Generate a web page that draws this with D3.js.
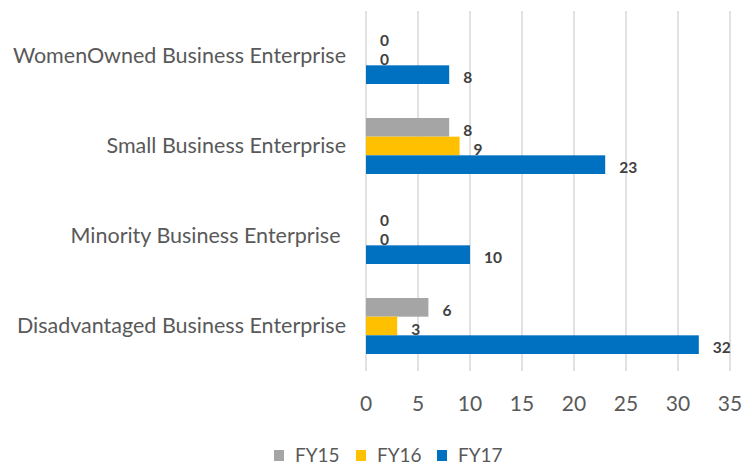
<!DOCTYPE html>
<html>
<head>
<meta charset="utf-8">
<script src="https://cdn.jsdelivr.net/npm/d3@7"></script>
<style>
  body { margin: 0; background: #fff; }
  text { font-family: Lato, "Open Sans", sans-serif; white-space: pre; }
</style>
</head>
<body>
<div id="chart"></div>
<script>
var categories = ["WomenOwned Business Enterprise", "Small Business Enterprise", "Minority Business Enterprise ", "Disadvantaged Business Enterprise"];
var seriesNames = ["FY15", "FY16", "FY17"];
var fy15 = [0, 8, 0, 6];
var fy16 = [0, 9, 0, 3];
var fy17 = [8, 23, 10, 32];
var xTicks = [0, 5, 10, 15, 20, 25, 30, 35];
var colors = ["#A5A5A5", "#FFC000", "#0070C0"];

var width = 755,
    height = 468;

var svg = d3.select("#chart")
    .append("svg")
    .attr("width", width)
    .attr("height", height);

var seriesValues = [fy15, fy16, fy17];

var x = d3.scaleLinear()
    .domain([0, 35])
    .range([366, 730]);

var y = d3.scaleBand()
    .domain(categories)
    .range([11, 371])
    .paddingInner(0.378)
    .paddingOuter(0.189);

var ySub = d3.scaleBand()
    .domain(seriesNames)
    .range([0, y.bandwidth()]);

var color = d3.scaleOrdinal()
    .domain(seriesNames)
    .range(colors);

// gridlines
svg.append("g")
    .selectAll("line")
    .data(xTicks)
    .enter().append("line")
    .attr("x1", function(d) { return x(d); })
    .attr("x2", function(d) { return x(d); })
    .attr("y1", 11)
    .attr("y2", 371)
    .attr("stroke", "#d9d9d9")
    .attr("stroke-width", 1.5);

// x tick labels
svg.append("g")
    .selectAll("text")
    .data(xTicks)
    .enter().append("text")
    .attr("x", function(d) { return x(d); })
    .attr("y", 411)
    .attr("text-anchor", "middle")
    .attr("font-size", 21)
    .attr("fill", "#595959")
    .text(function(d) { return d; });

// category labels
svg.append("g")
    .selectAll("text")
    .data(categories)
    .enter().append("text")
    .attr("x", 346)
    .attr("y", function(d) { return y(d) + y.bandwidth() / 2 + 7; })
    .attr("text-anchor", "end")
    .attr("font-size", 21.5)
    .attr("fill", "#595959")
    .text(function(d) { return d; });

var rows = [];
categories.forEach(function(c, i) {
    seriesNames.forEach(function(s, j) {
        rows.push({ category: c, series: s, value: seriesValues[j][i] });
    });
});

var bars = svg.append("g");

bars.selectAll("rect")
    .data(rows)
    .enter().append("rect")
    .attr("x", x(0))
    .attr("y", function(d) { return y(d.category) + ySub(d.series); })
    .attr("width", function(d) { return x(d.value) - x(0); })
    .attr("height", ySub.bandwidth())
    .attr("fill", function(d) { return color(d.series); });

bars.selectAll("text")
    .data(rows)
    .enter().append("text")
    .attr("x", function(d) { return x(d.value) + 14; })
    .attr("y", function(d) { return y(d.category) + ySub(d.series) + ySub.bandwidth() / 2 + 8.5; })
    .attr("font-size", 15.5)
    .attr("font-weight", "bold")
    .attr("fill", "#404040")
    .text(function(d) { return d.value; });

// legend
var legendX = [274, 356, 437];
var legend = svg.append("g")
    .selectAll("g")
    .data(seriesNames)
    .enter().append("g")
    .attr("transform", function(d, i) { return "translate(" + legendX[i] + ",450)"; });

legend.append("rect")
    .attr("width", 10)
    .attr("height", 11)
    .attr("fill", function(d) { return color(d); });

legend.append("text")
    .attr("x", 21)
    .attr("y", 12)
    .attr("font-size", 19)
    .attr("fill", "#595959")
    .text(function(d) { return d; });
</script>
</body>
</html>
